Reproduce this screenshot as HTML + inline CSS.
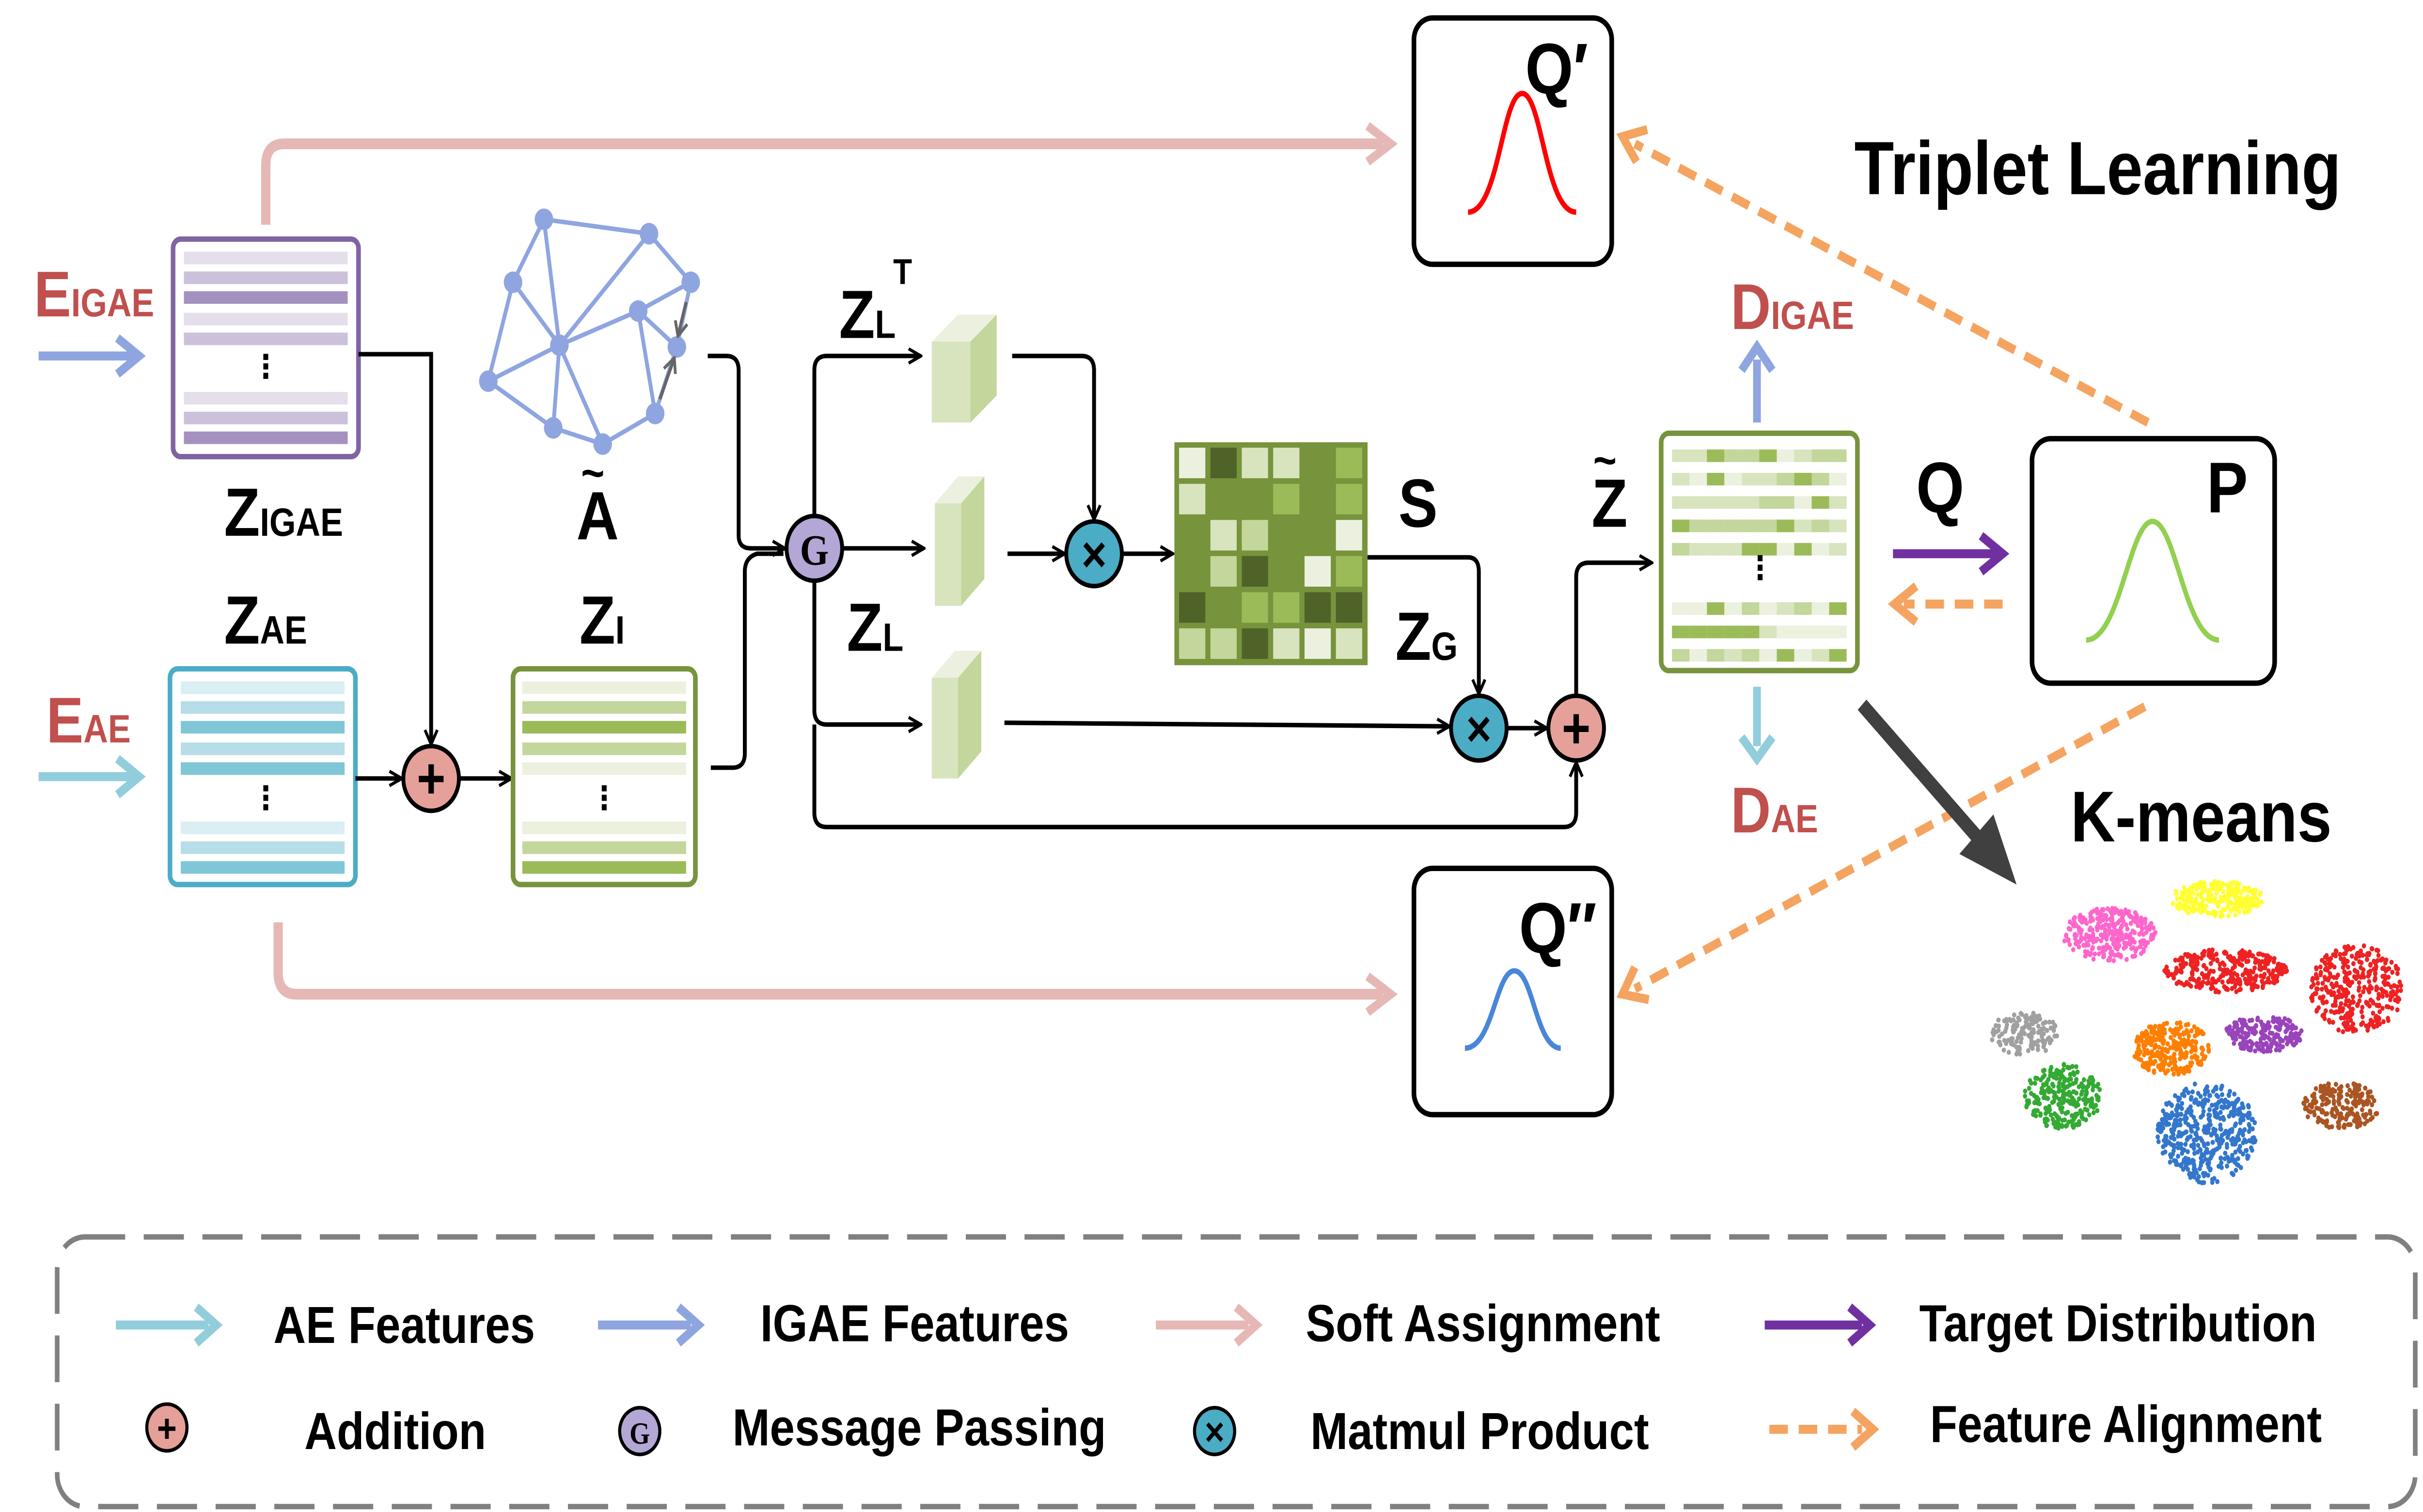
<!DOCTYPE html>
<html><head><meta charset="utf-8">
<style>
html,body{margin:0;padding:0;background:#fff;width:100%;height:100%;overflow:hidden;}
svg{display:block;width:100vw;height:100vh;}
text{font-family:"Liberation Sans","DejaVu Sans",sans-serif;font-weight:bold;}
</style></head>
<body>
<svg id="s" viewBox="0 0 1568 841" preserveAspectRatio="none" xmlns="http://www.w3.org/2000/svg">
<defs>
<marker id="ak" markerWidth="10" markerHeight="10" refX="8" refY="5" orient="auto" markerUnits="userSpaceOnUse"><path d="M1,1 L9,5 L1,9" fill="none" stroke="#000" stroke-width="1.8"/></marker>
<marker id="ag" markerWidth="10" markerHeight="10" refX="8" refY="5" orient="auto" markerUnits="userSpaceOnUse"><path d="M1,1 L9,5 L1,9" fill="none" stroke="#666" stroke-width="1.8"/></marker>
</defs>
<rect width="1568" height="841" fill="#fff"/>

<path d="M172,125 V92 Q172,80 184,80 H895" fill="none" stroke="#e6b8b5" stroke-width="6"/>
<path d="M885,70 L900,80 L885,90" fill="none" stroke="#e6b8b5" stroke-width="5"/>
<path d="M180,513 V541 Q180,553 192,553 H895" fill="none" stroke="#e6b8b5" stroke-width="6"/>
<path d="M885,543 L900,553 L885,563" fill="none" stroke="#e6b8b5" stroke-width="5"/>

<text x="22" y="176" fill="#c0504d" font-size="36">E<tspan font-size="22">IGAE</tspan></text>
<line x1="25" y1="198" x2="86" y2="198" stroke="#8ea5e0" stroke-width="5"/>
<path d="M76,188 L90,198 L76,208" fill="none" stroke="#8ea5e0" stroke-width="5"/>
<text x="30" y="413" fill="#c0504d" font-size="36">E<tspan font-size="22">AE</tspan></text>
<line x1="25" y1="432" x2="86" y2="432" stroke="#92cddc" stroke-width="5"/>
<path d="M76,422 L90,432 L76,442" fill="none" stroke="#92cddc" stroke-width="5"/>

<rect x="112" y="133" width="120" height="121" rx="5" fill="#fff" stroke="#8064a2" stroke-width="3"/>
<g fill="#ccc1da">
<rect x="119" y="140" width="106" height="7" fill="#e5dfec"/><rect x="119" y="151" width="106" height="7"/>
<rect x="119" y="162" width="106" height="7" fill="#a491c0"/><rect x="119" y="174" width="106" height="7" fill="#e5dfec"/>
<rect x="119" y="185" width="106" height="7"/>
<rect x="119" y="218" width="106" height="7" fill="#e5dfec"/><rect x="119" y="229" width="106" height="7"/>
<rect x="119" y="240" width="106" height="7" fill="#a491c0"/></g>
<text x="172" y="210" font-size="18" text-anchor="middle">⋮</text>
<text x="145" y="298" font-size="38">Z<tspan font-size="22">IGAE</tspan></text>

<text x="145" y="358" font-size="38">Z<tspan font-size="22">AE</tspan></text>
<rect x="110" y="372" width="120" height="120" rx="5" fill="#fff" stroke="#4bacc6" stroke-width="3"/>
<g fill="#b7dde8">
<rect x="117" y="379" width="106" height="7" fill="#daeef3"/><rect x="117" y="390" width="106" height="7"/>
<rect x="117" y="401" width="106" height="7" fill="#7fc6d6"/><rect x="117" y="413" width="106" height="7"/>
<rect x="117" y="424" width="106" height="7" fill="#7fc6d6"/>
<rect x="117" y="457" width="106" height="7" fill="#daeef3"/><rect x="117" y="468" width="106" height="7"/>
<rect x="117" y="479" width="106" height="7" fill="#7fc6d6"/></g>
<text x="172" y="450" font-size="18" text-anchor="middle">⋮</text>

<path d="M232,197 H279 V413" fill="none" stroke="#000" stroke-width="2.5" marker-end="url(#ak)"/>
<line x1="230" y1="433" x2="259" y2="433" stroke="#000" stroke-width="2.5" marker-end="url(#ak)"/>
<line x1="297" y1="433" x2="330" y2="433" stroke="#000" stroke-width="2.5" marker-end="url(#ak)"/>
<circle cx="279" cy="433" r="18" fill="#e6a09a" stroke="#000" stroke-width="2.5"/>
<text x="279" y="444" font-size="32" text-anchor="middle">+</text>

<text x="375" y="358" font-size="38">Z<tspan font-size="22">I</tspan></text>
<rect x="332" y="372" width="118" height="120" rx="5" fill="#fff" stroke="#77933c" stroke-width="3"/>
<g fill="#c3d69b">
<rect x="338" y="379" width="106" height="7" fill="#ebf1de"/><rect x="338" y="390" width="106" height="7"/>
<rect x="338" y="401" width="106" height="7" fill="#9bbb59"/><rect x="338" y="413" width="106" height="7"/>
<rect x="338" y="424" width="106" height="7" fill="#ebf1de"/>
<rect x="338" y="457" width="106" height="7" fill="#ebf1de"/><rect x="338" y="468" width="106" height="7"/>
<rect x="338" y="479" width="106" height="7" fill="#9bbb59"/></g>
<text x="391" y="450" font-size="18" text-anchor="middle">⋮</text>

<g stroke="#8ea5e0" stroke-width="2.5" fill="none">
<path d="M352,122 L420,130 L447,157 L438,193 L424,230 L390,247 L358,238 L316,212 L332,157 Z"/>
<path d="M352,122 L362,192 L420,130 M362,192 L413,173 L447,157 M362,192 L316,212 M362,192 L358,238 M362,192 L390,247 M413,173 L438,193 M413,173 L424,230 M332,157 L362,192"/>
</g>
<g fill="#8ea5e0">
<circle cx="352" cy="122" r="6"/><circle cx="420" cy="130" r="6"/><circle cx="447" cy="157" r="6"/><circle cx="438" cy="193" r="6"/><circle cx="424" cy="230" r="6"/><circle cx="390" cy="247" r="6"/><circle cx="358" cy="238" r="6"/><circle cx="316" cy="212" r="6"/><circle cx="332" cy="157" r="6"/><circle cx="362" cy="192" r="6"/><circle cx="413" cy="173" r="6"/></g>
<line x1="444" y1="168" x2="439" y2="186" stroke="#666" stroke-width="2" marker-end="url(#ag)"/>
<line x1="427" y1="222" x2="436" y2="200" stroke="#666" stroke-width="2" marker-end="url(#ag)"/>
<text x="373" y="300" font-size="38">A</text>
<text x="376" y="272" font-size="26" font-weight="normal">~</text>

<path d="M458,198 H470 Q478,198 478,206 V298 Q478,305 486,305 H507" fill="none" stroke="#000" stroke-width="2.5" marker-end="url(#ak)"/>
<path d="M460,427 H474 Q482,427 482,419 V318 Q482,310 490,308 H507" fill="none" stroke="#000" stroke-width="2.5"/>

<path d="M527,290 V206 Q527,198 535,198 H595" fill="none" stroke="#000" stroke-width="2.5" marker-end="url(#ak)"/>
<line x1="545" y1="305" x2="597" y2="305" stroke="#000" stroke-width="2.5" marker-end="url(#ak)"/>
<path d="M527,320 V395 Q527,403 535,403 H595" fill="none" stroke="#000" stroke-width="2.5" marker-end="url(#ak)"/>
<path d="M527,403 V452 Q527,460 535,460 H1012 Q1020,460 1020,452 V425" fill="none" stroke="#000" stroke-width="2.5" marker-end="url(#ak)"/>
<circle cx="527" cy="305" r="18" fill="#b4a7d6" stroke="#000" stroke-width="2.5"/>
<text x="527" y="314" font-size="24" text-anchor="middle" style="font-family:'Liberation Serif',serif">G</text>

<text x="543" y="188" font-size="38">Z<tspan font-size="22">L</tspan></text>
<text x="578" y="158" font-size="20">T</text>
<text x="548" y="362" font-size="38">Z<tspan font-size="22">L</tspan></text>

<g>
<polygon points="603,190 620,175 645,175 628,190" fill="#ebf1de"/><polygon points="628,190 645,175 645,220 628,235" fill="#c3d69b"/><rect x="603" y="190" width="25" height="45" fill="#d7e4bd"/>
<polygon points="605,280 620,265 637,265 622,280" fill="#ebf1de"/><polygon points="622,280 637,265 637,322 622,337" fill="#c3d69b"/><rect x="605" y="280" width="17" height="57" fill="#d7e4bd"/>
<polygon points="603,377 618,362 635,362 620,377" fill="#ebf1de"/><polygon points="620,377 635,362 635,418 620,433" fill="#c3d69b"/><rect x="603" y="377" width="17" height="56" fill="#d7e4bd"/>
</g>

<path d="M655,198 H700 Q708,198 708,206 V288" fill="none" stroke="#000" stroke-width="2.5" marker-end="url(#ak)"/>
<line x1="652" y1="308" x2="688" y2="308" stroke="#000" stroke-width="2.5" marker-end="url(#ak)"/>
<line x1="726" y1="308" x2="758" y2="308" stroke="#000" stroke-width="2.5" marker-end="url(#ak)"/>
<circle cx="708" cy="308" r="18" fill="#4bacc6" stroke="#000" stroke-width="2.5"/>
<text x="708" y="318" font-size="28" text-anchor="middle" font-weight="normal">×</text>

<g id="S"></g>
<text x="905" y="293" font-size="38">S</text>
<text x="903" y="367" font-size="38">Z<tspan font-size="22">G</tspan></text>
<path d="M885,310 H950 Q957,310 957,318 V385" fill="none" stroke="#000" stroke-width="2.5" marker-end="url(#ak)"/>
<line x1="650" y1="402" x2="937" y2="404" stroke="#000" stroke-width="2.5" marker-end="url(#ak)"/>
<line x1="975" y1="405" x2="1000" y2="405" stroke="#000" stroke-width="2.5" marker-end="url(#ak)"/>
<circle cx="957" cy="405" r="18" fill="#4bacc6" stroke="#000" stroke-width="2.5"/>
<text x="957" y="415" font-size="28" text-anchor="middle" font-weight="normal">×</text>
<path d="M1020,387 V321 Q1020,313 1028,313 H1068" fill="none" stroke="#000" stroke-width="2.5" marker-end="url(#ak)"/>
<circle cx="1020" cy="405" r="18" fill="#e6a09a" stroke="#000" stroke-width="2.5"/>
<text x="1020" y="416" font-size="32" text-anchor="middle">+</text>

<text x="1030" y="293" font-size="38">Z</text>
<text x="1031" y="265" font-size="26" font-weight="normal">~</text>
<rect x="1075" y="241" width="127" height="132" rx="5" fill="#fff" stroke="#77933c" stroke-width="3"/>
<g id="ZT"></g>
<text x="1139" y="322" font-size="18" text-anchor="middle">⋮</text>

<text x="1120" y="183" fill="#c0504d" font-size="36">D<tspan font-size="22">IGAE</tspan></text>
<line x1="1137" y1="235" x2="1137" y2="200" stroke="#8ea5e0" stroke-width="5"/>
<path d="M1127,206 L1137,193 L1147,206" fill="none" stroke="#8ea5e0" stroke-width="5"/>
<text x="1120" y="463" fill="#c0504d" font-size="36">D<tspan font-size="22">AE</tspan></text>
<line x1="1137" y1="382" x2="1137" y2="415" stroke="#92cddc" stroke-width="5"/>
<path d="M1127,410 L1137,422 L1147,410" fill="none" stroke="#92cddc" stroke-width="5"/>

<text x="1240" y="285" font-size="40">Q</text>
<line x1="1225" y1="308" x2="1292" y2="308" stroke="#7030a0" stroke-width="5"/>
<path d="M1282,298 L1296,308 L1282,318" fill="none" stroke="#7030a0" stroke-width="5"/>
<line x1="1296" y1="336" x2="1232" y2="336" stroke="#f4a460" stroke-width="5" stroke-dasharray="12,7"/>
<path d="M1240,326 L1226,336 L1240,346" fill="none" stroke="#f4a460" stroke-width="5"/>
<rect x="1315" y="244" width="157" height="136" rx="12" fill="#fff" stroke="#000" stroke-width="3"/>
<text x="1428" y="285" font-size="40">P</text>
<path d="M1350,356 C1372,356 1378,290 1393,290 C1408,290 1414,356 1436,356" fill="none" stroke="#92d050" stroke-width="3"/>

<rect x="915" y="10" width="128" height="137" rx="12" fill="#fff" stroke="#000" stroke-width="3"/>
<text x="987" y="52" font-size="40">Q′</text>
<path d="M950,118 C970,118 972,52 985,52 C998,52 1000,118 1020,118" fill="none" stroke="#ff0000" stroke-width="3"/>
<rect x="915" y="483" width="128" height="137" rx="12" fill="#fff" stroke="#000" stroke-width="3"/>
<text x="983" y="530" font-size="40">Q″</text>
<path d="M948,583 C966,583 968,540 980,540 C992,540 994,583 1010,583" fill="none" stroke="#4a86d8" stroke-width="3"/>

<line x1="1390" y1="235" x2="1058" y2="80" stroke="#f4a460" stroke-width="5" stroke-dasharray="12,7"/>
<path d="M1066,72 L1050,76 L1059,90" fill="none" stroke="#f4a460" stroke-width="5"/>
<line x1="1388" y1="393" x2="1058" y2="550" stroke="#f4a460" stroke-width="5" stroke-dasharray="12,7"/>
<path d="M1058,538 L1050,553 L1067,556" fill="none" stroke="#f4a460" stroke-width="5"/>

<text x="1200" y="108" font-size="42">Triplet Learning</text>
<text x="1340" y="468" font-size="40">K-means</text>

<line x1="1205" y1="392" x2="1282" y2="468" stroke="#404040" stroke-width="8"/>
<polygon points="1305,492 1268,475 1290,453" fill="#404040"/>

<g id="SC"></g>

<rect x="37" y="688" width="1526" height="150" rx="18" fill="none" stroke="#808080" stroke-width="3" stroke-dasharray="26,12"/>
<g font-size="29">
<line x1="75" y1="737" x2="135" y2="737" stroke="#92cddc" stroke-width="5"/><path d="M127,727 L140,737 L127,747" fill="none" stroke="#92cddc" stroke-width="5"/>
<text x="177" y="747">AE Features</text>
<line x1="387" y1="737" x2="447" y2="737" stroke="#8ea5e0" stroke-width="5"/><path d="M439,727 L452,737 L439,747" fill="none" stroke="#8ea5e0" stroke-width="5"/>
<text x="492" y="746">IGAE Features</text>
<line x1="748" y1="737" x2="808" y2="737" stroke="#e6b8b5" stroke-width="5"/><path d="M800,727 L813,737 L800,747" fill="none" stroke="#e6b8b5" stroke-width="5"/>
<text x="845" y="746">Soft Assignment</text>
<line x1="1142" y1="737" x2="1205" y2="737" stroke="#7030a0" stroke-width="5"/><path d="M1197,727 L1210,737 L1197,747" fill="none" stroke="#7030a0" stroke-width="5"/>
<text x="1242" y="746">Target Distribution</text>

<circle cx="108" cy="794" r="13" fill="#e6a09a" stroke="#000" stroke-width="2"/><text x="108" y="802" font-size="22" text-anchor="middle" font-weight="normal">+</text>
<text x="197" y="806">Addition</text>
<circle cx="414" cy="796" r="13" fill="#b4a7d6" stroke="#000" stroke-width="2"/><text x="414" y="803" font-size="17" text-anchor="middle" style="font-family:'Liberation Serif',serif">G</text>
<text x="474" y="804">Message Passing</text>
<circle cx="786" cy="796" r="13" fill="#4bacc6" stroke="#000" stroke-width="2"/><text x="786" y="804" font-size="22" text-anchor="middle" font-weight="normal">×</text>
<text x="848" y="806">Matmul Product</text>
<line x1="1145" y1="795" x2="1205" y2="795" stroke="#f4a460" stroke-width="5" stroke-dasharray="12,7"/><path d="M1199,785 L1212,795 L1199,805" fill="none" stroke="#f4a460" stroke-width="5"/>
<text x="1249" y="802">Feature Alignment</text>
</g>
</svg>
<script>
(function(){
var NS="http://www.w3.org/2000/svg";
var seed=7;function r(){seed=(seed*16807)%2147483647;return (seed-1)/2147483646;}
function el(p,n,a){var e=document.createElementNS(NS,n);for(var k in a)e.setAttribute(k,a[k]);p.appendChild(e);return e;}
var S=document.getElementById("S");
el(S,"rect",{x:760,y:246,width:125,height:124,fill:"#77933c"});
var cols=["#ebf1de","#d7e4bd","#c3d69b","#9bbb59","#77933c","#4f6228"];
for(var i=0;i<6;i++)for(var j=0;j<6;j++){
el(S,"rect",{x:763+j*20.3,y:249+i*20.1,width:17,height:17,fill:cols[Math.floor(r()*6)]});}
var Z=document.getElementById("ZT");
var ys=[250,263,276,289,302,335,348,361];
ys.forEach(function(y){for(var k=0;k<10;k++){el(Z,"rect",{x:1082+k*11.3,y:y,width:11.3,height:7,fill:cols[Math.floor(r()*4)]});}});
var SC=document.getElementById("SC");
var cl=[["#ff66cc",1365,520,30,15,300],["#ffff33",1435,500,30,10,250],["#ee2222",1440,540,40,12,300],["#ee2222",1525,550,30,25,350],
["#a0a0a0",1310,575,22,12,150],["#33aa33",1335,610,25,18,250],["#ff7f00",1405,583,25,15,280],["#9944bb",1465,575,25,10,200],
["#3377cc",1428,630,32,28,450],["#aa5522",1515,615,25,13,200]];
cl.forEach(function(c){for(var k=0;k<c[5];k++){var a=r()*6.283,d=Math.sqrt(r());
el(SC,"circle",{cx:c[1]+Math.cos(a)*d*c[3],cy:c[2]+Math.sin(a)*d*c[4],r:1.4,fill:c[0]});}});
})();
</script>
</body></html>
